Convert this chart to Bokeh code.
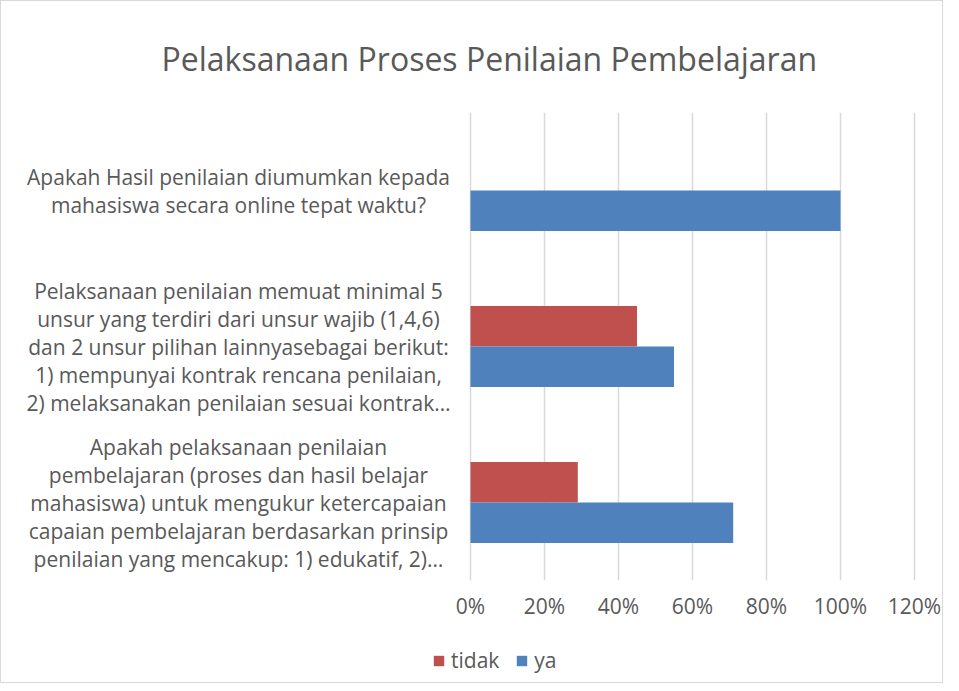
from bokeh.plotting import figure
from bokeh.layouts import column
from bokeh.models import (ColumnDataSource, FactorRange, Range1d, FixedTicker,
                          NumeralTickFormatter, Legend, LegendItem)
from bokeh.core.properties import value
from bokeh.transform import dodge
from bokeh.embed import file_html
from bokeh.resources import INLINE

title_text = "Pelaksanaan Proses Penilaian Pembelajaran"
categories = [
    "Apakah Hasil penilaian diumumkan kepada\nmahasiswa secara online tepat waktu?",
    "Pelaksanaan penilaian memuat minimal 5\nunsur yang terdiri dari unsur wajib (1,4,6)\n"
    "dan 2 unsur pilihan lainnyasebagai berikut:\n1) mempunyai kontrak rencana penilaian,\n"
    "2) melaksanakan penilaian sesuai kontrak\u2026",
    "Apakah pelaksanaan penilaian\npembelajaran (proses dan hasil belajar\n"
    "mahasiswa) untuk mengukur ketercapaian\ncapaian pembelajaran berdasarkan prinsip\n"
    "penilaian yang mencakup: 1) edukatif, 2)\u2026",
]
series = ["tidak", "ya"]
tidak = [0.0, 0.45, 0.29]
ya = [1.0, 0.55, 0.71]
x_ticks = [0, 0.2, 0.4, 0.6, 0.8, 1.0, 1.2]

FONT = "Open Sans"
TXT = "#595959"
RED = "#C0504D"
BLUE = "#4F81BD"

# layout constants (pixels)
W = 941
FRAME_H = 468
LEG_H = 60
PX_PER_UNIT = 370.0
ZERO_X = 469.0          # screen x of 0 %
LABEL_CX = 237.0        # screen x of category label centres

src = ColumnDataSource(dict(cat=categories, tidak=tidak, ya=ya,
                            lx=[(LABEL_CX - ZERO_X) / PX_PER_UNIT] * len(categories)))

p = figure(frame_width=W, frame_height=FRAME_H,
           y_range=FactorRange(*reversed(categories)),
           x_range=Range1d(-ZERO_X / PX_PER_UNIT, (W - ZERO_X) / PX_PER_UNIT),
           output_backend="svg", toolbar_location=None,
           min_border_left=0, min_border_right=0,
           min_border_top=111, min_border_bottom=0,
           title=title_text)

p.hbar(y=dodge("cat", 0.13, range=p.y_range), left=0, right="tidak",
       height=0.26, fill_color=RED, line_color=None, source=src)
p.hbar(y=dodge("cat", -0.13, range=p.y_range), left=0, right="ya",
       height=0.26, fill_color=BLUE, line_color=None, source=src)

p.text(x="lx", y="cat", text="cat", source=src, text_align="center",
       text_baseline="middle", text_font=value(FONT), text_font_size="21px",
       text_color=TXT, text_line_height=1.0)

p.title.align = "left"
p.title.offset = 160
p.title.standoff = 66
p.title.text_font = FONT
p.title.text_font_size = "32px"
p.title.text_font_style = "normal"
p.title.text_color = TXT

p.outline_line_color = None
p.ygrid.grid_line_color = None
p.xgrid.grid_line_color = "#d9d9d9"
p.xgrid.grid_line_width = 1.5
p.yaxis.visible = False

p.xaxis.ticker = FixedTicker(ticks=x_ticks)
p.xaxis.formatter = NumeralTickFormatter(format="0%")
p.xaxis.axis_line_color = None
p.xaxis.major_tick_line_color = None
p.xaxis.minor_tick_line_color = None
p.xaxis.major_label_text_font = FONT
p.xaxis.major_label_text_font_size = "21px"
p.xaxis.major_label_text_color = TXT
p.xaxis.major_label_standoff = 5

# legend strip below the chart (same series; its x window shows no bars)
pl = figure(frame_width=W, frame_height=LEG_H,
            x_range=Range1d(-2, -1), y_range=FactorRange(*reversed(categories)),
            output_backend="svg", toolbar_location=None,
            x_axis_location=None, y_axis_location=None,
            min_border_left=0, min_border_right=0, min_border_top=0, min_border_bottom=0)
pl.outline_line_color = None
pl.grid.visible = False
g_t = pl.hbar(y=dodge("cat", 0.13, range=pl.y_range), left=0, right="tidak",
              height=0.26, fill_color=RED, line_color=None, source=src)
g_y = pl.hbar(y=dodge("cat", -0.13, range=pl.y_range), left=0, right="ya",
              height=0.26, fill_color=BLUE, line_color=None, source=src)

legend = Legend(items=[LegendItem(label=series[0], renderers=[g_t]),
                       LegendItem(label=series[1], renderers=[g_y])],
                orientation="horizontal", location=(431, 8),
                border_line_color=None, background_fill_alpha=0,
                label_text_font=FONT, label_text_font_size="21px",
                label_text_color=TXT, glyph_width=13, glyph_height=13,
                label_standoff=6, spacing=16, padding=0, margin=0)
pl.add_layout(legend)

layout = column(p, pl, spacing=0)
layout.styles = {"border": "1px solid #d9d9d9"}

open("out.html", "w").write(file_html(layout, INLINE))
